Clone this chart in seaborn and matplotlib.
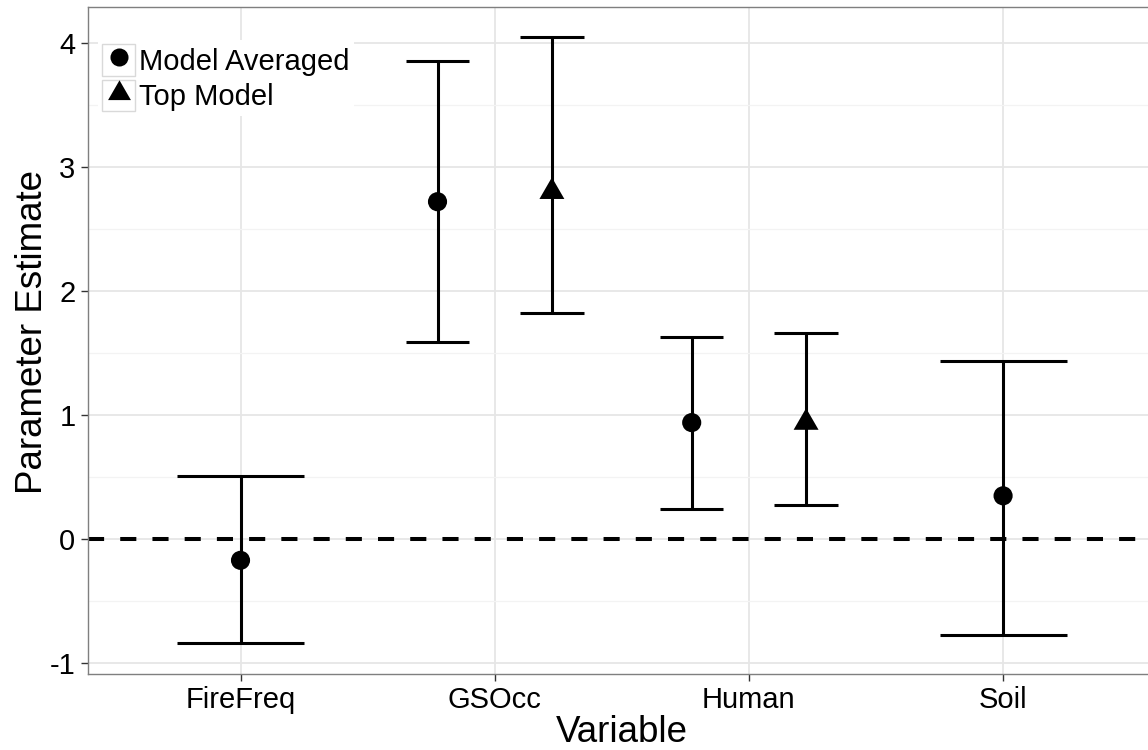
import numpy as np
import pandas as pd
import matplotlib
matplotlib.use("Agg")
import matplotlib.pyplot as plt
from matplotlib.lines import Line2D
from matplotlib.patches import Patch
from matplotlib.legend_handler import HandlerTuple
from matplotlib.ticker import MultipleLocator
import seaborn as sns

# values
variables = ["FireFreq", "GSOcc", "GSOcc", "Human", "Human", "Soil"]
models = ["Model Averaged", "Model Averaged", "Top Model", "Model Averaged", "Top Model", "Model Averaged"]
estimates = [-0.17, 2.72, 2.80, 0.94, 0.94, 0.35]
lower = [-0.84, 1.59, 1.82, 0.24, 0.275, -0.77]
upper = [0.51, 3.85, 4.05, 1.63, 1.66, 1.44]
categories = ["FireFreq", "GSOcc", "Human", "Soil"]
model_levels = ["Model Averaged", "Top Model"]

sns.set_theme(style="white")
plt.rcParams["font.family"] = ["Liberation Sans", "DejaVu Sans"]
plt.rcParams["text.color"] = "black"
plt.rcParams["axes.labelcolor"] = "black"

df = pd.DataFrame({"variable": variables, "model": models,
                   "estimate": estimates, "lower": lower, "upper": upper})

# ggplot-like dodge: groups share a 0.9 wide slot, single groups stay centred
df["code"] = df["variable"].map({c: i for i, c in enumerate(categories)})
df["n"] = df.groupby("variable")["model"].transform("count")
df["idx"] = df.groupby("variable").cumcount()
df["xpos"] = df["code"] + (df["idx"] - (df["n"] - 1) / 2) * 0.9 / df["n"]
df["half"] = 0.25 / df["n"]

fig = plt.figure(figsize=(11.48, 7.5), dpi=100)
ax = fig.add_axes([88 / 1148, 76 / 750, 1067.6 / 1148, 667 / 750])

ax.axhline(0, color="black", lw=2.9, ls=(0, (4, 4)), dash_capstyle="butt", zorder=2)

ax.vlines(df["xpos"], df["lower"], df["upper"], color="black", lw=2.2, zorder=3)
ax.hlines(df["lower"], df["xpos"] - df["half"], df["xpos"] + df["half"], color="black", lw=2.2, zorder=3)
ax.hlines(df["upper"], df["xpos"] - df["half"], df["xpos"] + df["half"], color="black", lw=2.2, zorder=3)

sns.scatterplot(data=df, x="xpos", y="estimate", style="model", size="model",
                markers={"Model Averaged": "o", "Top Model": (3, 0, 0)},
                sizes={"Model Averaged": 190, "Top Model": 430},
                color="black", linewidth=0, legend=False, ax=ax, zorder=4)

ax.set_xlim(-0.6, 3.6)
ax.set_ylim(-1.086, 4.289)
ax.set_xticks(range(len(categories)))
ax.set_xticklabels(categories)
ax.yaxis.set_major_locator(MultipleLocator(1))
ax.yaxis.set_minor_locator(MultipleLocator(0.5))
ax.set_yticklabels([f"{int(v)}" for v in ax.get_yticks()])

ax.grid(True, which="major", color="#e6e6e6", lw=1.3)
ax.grid(True, which="minor", axis="y", color="#f3f3f3", lw=0.9)
ax.set_axisbelow(True)
for s in ax.spines.values():
    s.set_color("#7f7f7f")
    s.set_linewidth(1.0)

ax.tick_params(axis="both", which="major", labelsize=21, length=5, width=1,
               color="#333333", labelcolor="black", pad=4, left=True, bottom=True)
ax.tick_params(axis="both", which="minor", length=0)

ax.set_xlabel("Variable", fontsize=26.5)
ax.set_ylabel("Parameter Estimate", fontsize=26.5)
ax.xaxis.set_label_coords(0.5, -0.062)
ax.yaxis.set_label_coords(-0.036, 0.512)

handles = []
for m, mk, ms in [("Model Averaged", "o", 13), ("Top Model", (3, 0, 0), 19)]:
    box = Patch(facecolor="white", edgecolor="#d9d9d9", lw=1)
    dot = Line2D([], [], marker=mk, ls="", color="black", markersize=ms, markeredgewidth=0)
    handles.append((box, dot))
leg = ax.legend(handles, model_levels, handler_map={tuple: HandlerTuple(ndivide=1)},
                loc="upper left", bbox_to_anchor=(0.0094, 0.9505), borderaxespad=0,
                borderpad=0.15, fontsize=21, handlelength=1.13, handleheight=1.3,
                handletextpad=0.14, labelspacing=0.12, frameon=True, fancybox=False,
                facecolor="white", edgecolor="none", framealpha=1)

fig.savefig("out.png", dpi=100)
